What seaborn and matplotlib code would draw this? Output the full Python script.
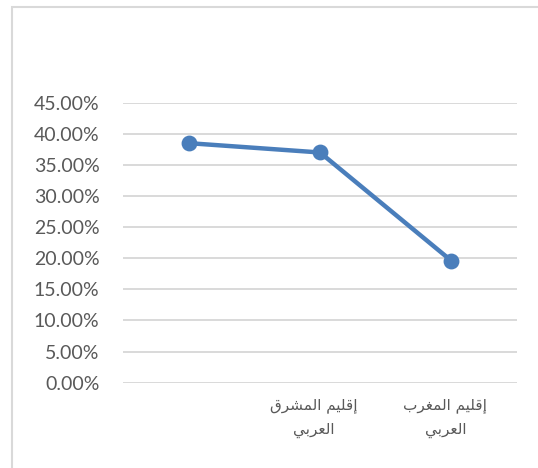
import numpy as np
import pandas as pd
import seaborn as sns
import matplotlib.pyplot as plt
import matplotlib.transforms as mtransforms
from matplotlib.patches import Rectangle
from matplotlib.ticker import PercentFormatter

# data
categories = ["", "إقليم المشرق\nالعربي", "إقليم المغرب\nالعربي"]
values = [38.5, 37.0, 19.6]
y_ticks = [0, 5, 10, 15, 20, 25, 30, 35, 40, 45]

# minimal arabic shaping (matplotlib has no bidi / joining support)
# letter: (isolated, final, initial, medial)
forms = {
    "\u0625": ("\uFE87", "\uFE88", None, None),
    "\u0627": ("\uFE8D", "\uFE8E", None, None),
    "\u0628": ("\uFE8F", "\uFE90", "\uFE91", "\uFE92"),
    "\u0631": ("\uFEAD", "\uFEAE", None, None),
    "\u0634": ("\uFEB5", "\uFEB6", "\uFEB7", "\uFEB8"),
    "\u0639": ("\uFEC9", "\uFECA", "\uFECB", "\uFECC"),
    "\u063A": ("\uFECD", "\uFECE", "\uFECF", "\uFED0"),
    "\u0642": ("\uFED5", "\uFED6", "\uFED7", "\uFED8"),
    "\u0644": ("\uFEDD", "\uFEDE", "\uFEDF", "\uFEE0"),
    "\u0645": ("\uFEE1", "\uFEE2", "\uFEE3", "\uFEE4"),
    "\u064A": ("\uFEF1", "\uFEF2", "\uFEF3", "\uFEF4"),
}


def joins_left(ch):
    return ch in forms and forms[ch][2] is not None


def shape_line(line):
    out = []
    for i, ch in enumerate(line):
        if ch not in forms:
            out.append(ch)
            continue
        prev_joins = i > 0 and joins_left(line[i - 1])
        next_joins = i + 1 < len(line) and line[i + 1] in forms and joins_left(ch)
        iso, fin, ini, med = forms[ch]
        if prev_joins and next_joins:
            out.append(med)
        elif prev_joins:
            out.append(fin)
        elif next_joins:
            out.append(ini)
        else:
            out.append(iso)
    return "".join(out)[::-1]


def shape(text):
    return "\n".join(shape_line(l) for l in text.split("\n"))


df = pd.DataFrame({"region": [shape(c) for c in categories], "share": values})

sns.set_theme(style="white")
plt.rcParams["font.family"] = ["Lato", "DejaVu Sans"]

fig = plt.figure(figsize=(5.38, 4.68), dpi=100)
ax = fig.add_axes([123 / 538, 1 - 382.7 / 468, (517 - 123) / 538, (382.7 - 102.7) / 468])

sns.pointplot(data=df, x="region", y="share", color="#4A7EBB", ax=ax,
              markers="o", markersize=9, linewidth=3.2, errorbar=None)

ax.set_ylim(0, 45)
ax.set_yticks(y_ticks)
ax.yaxis.set_major_formatter(PercentFormatter(decimals=2))
ax.grid(axis="y", color="#d9d9d9", linewidth=1.4)
ax.set_axisbelow(True)
for s in ax.spines.values():
    s.set_visible(False)
ax.tick_params(axis="y", length=0, pad=17, labelsize=14, labelcolor="#595959")
ax.tick_params(axis="x", length=0, pad=11, labelcolor="#595959")
shift = mtransforms.ScaledTranslation(-6 / 100, 0, fig.dpi_scale_trans)
for lab in ax.get_xticklabels():
    lab.set_family(["DejaVu Sans"])
    lab.set_fontsize(11)
    lab.set_linespacing(1.7)
    lab.set_transform(lab.get_transform() + shift)
ax.set_xlabel("")
ax.set_ylabel("")

# chart frame
fig.patches.append(Rectangle((12 / 538, -0.1), 1.2, 1.1 - 7 / 468, transform=fig.transFigure,
                             fill=False, edgecolor="#d9d9d9", linewidth=1.5))

fig.savefig("out.png", dpi=100)
